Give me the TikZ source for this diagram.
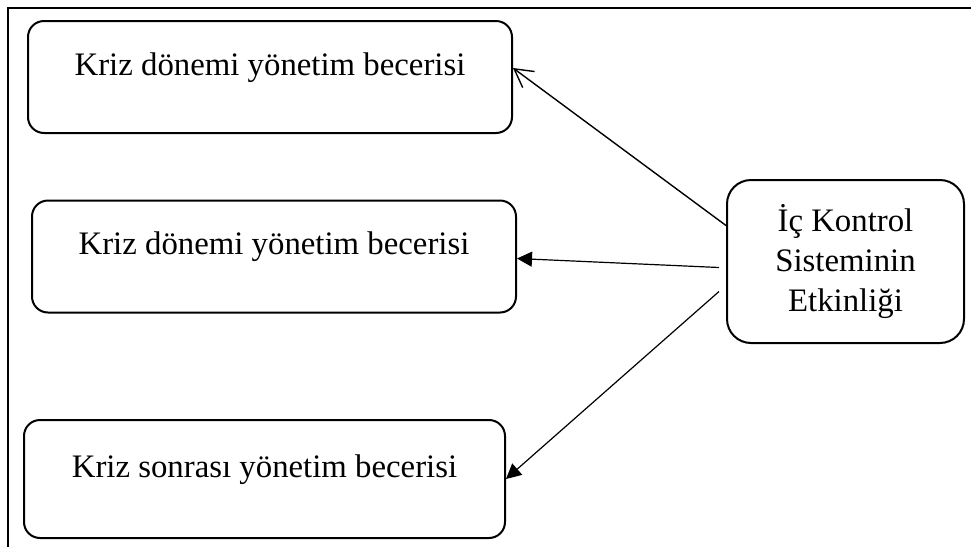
\documentclass[tikz,border=0pt]{standalone}
\usepackage{fontspec}
\setmainfont{Liberation Serif}
\usetikzlibrary{arrows.meta}

\begin{document}
\begin{tikzpicture}[
    x=0.5pt,y=-0.5pt,
    kutu/.style={rectangle,draw,line width=1pt,font=\fontsize{16.4}{20}\selectfont},
    solkutu/.style={kutu,rounded corners=8pt,minimum width=242pt,minimum height=56pt,
                    text height=11pt,text depth=13pt},
    sagkutu/.style={kutu,rounded corners=12pt,minimum width=118.5pt,minimum height=81.5pt,
                    align=center},
    cizgi/.style={line width=0.6pt},
    okdolu/.style={-{Triangle[length=7.5pt,width=7.5pt]},line width=0.6pt},
    okacik/.style={-{Straight Barb[length=9pt,width=10pt]},line width=0.7pt}
]
\useasboundingbox (0,0) rectangle (971,547);

% cerceve
\coordinate (kose) at (8,8);
\draw[cizgi] (971,8) -- (kose) -- (8,547);

\node[solkutu] (beceri1) at (270,77) {Kriz dönemi yönetim becerisi};
\node[solkutu] (beceri2) at (274,256.5) {Kriz dönemi yönetim becerisi};
\node[solkutu,minimum width=240.5pt,minimum height=59pt] (beceri3) at (264.5,479) {Kriz sonrası yönetim becerisi};
\node[sagkutu] (kontrol) at (845.5,261.5) {İç Kontrol\\Sisteminin\\Etkinliği};

\draw[okacik] ([yshift=18pt]kontrol.west) -- ([yshift=4.5pt]beceri1.east);
\draw[okdolu] ([xshift=-3.5pt,yshift=-3pt]kontrol.west) -- ([yshift=-1pt]beceri2.east);
\draw[okdolu] ([xshift=-3.5pt,yshift=-15pt]kontrol.west) -- (beceri3.east);
\end{tikzpicture}
\end{document}
